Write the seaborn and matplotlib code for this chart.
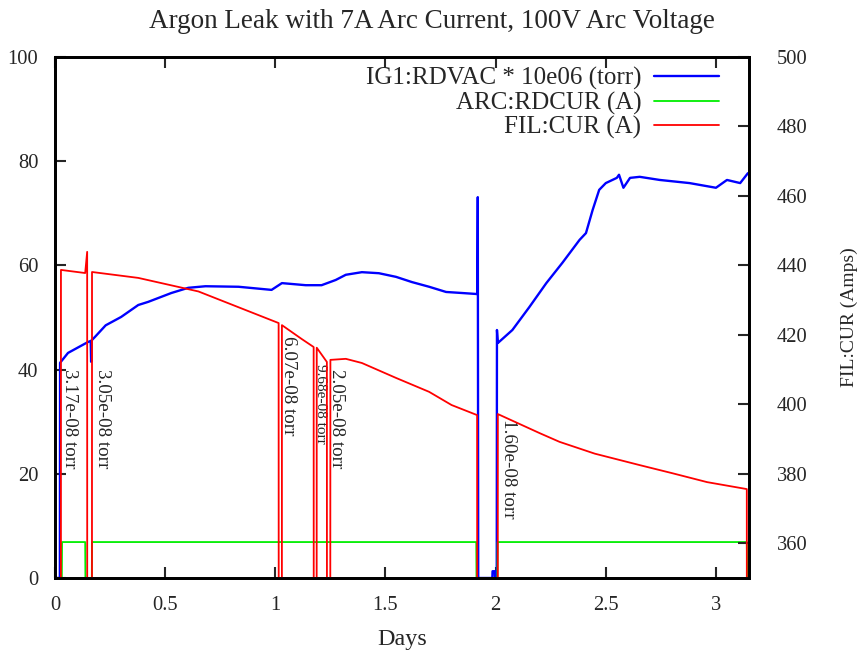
import numpy as np
import pandas as pd
import matplotlib
matplotlib.use("Agg")
import matplotlib.pyplot as plt
import seaborn as sns

# ---- data ----
blue_days = [0, 0.022, 0.023, 0.059, 0.15, 0.162, 0.164, 0.166, 0.182, 0.23, 0.3, 0.378, 0.423,
             0.528, 0.605, 0.683, 0.833, 0.983, 1.03, 1.138, 1.21, 1.274, 1.32, 1.393, 1.47,
             1.548, 1.62, 1.698, 1.775, 1.848, 1.917, 1.919, 1.921, 1.985, 1.986, 1.996, 1.997,
             2.005, 2.006, 2.01, 2.076, 2.153, 2.23, 2.303, 2.381, 2.41, 2.44, 2.47, 2.50, 2.55,
             2.56, 2.58, 2.61, 2.654, 2.745, 2.88, 3.0, 3.05, 3.11, 3.145]
blue_vals = [0, 0, 41.3, 43.2, 45.3, 45.5, 41.5, 45.6, 46.3, 48.5, 50.1, 52.4, 53.0,
             54.7, 55.7, 56.0, 55.9, 55.3, 56.6, 56.2, 56.2, 57.2, 58.2, 58.7, 58.5,
             57.8, 56.8, 55.9, 54.9, 54.7, 54.5, 73.1, 0, 0, 1.3, 1.3, 0,
             0, 47.6, 45.1, 47.6, 52.0, 56.6, 60.5, 64.9, 66.2, 70.6, 74.5, 75.8, 76.8,
             77.4, 74.9, 76.8, 77.0, 76.4, 75.8, 74.9, 76.4, 75.8, 77.7]

green_days = [0, 0.031, 0.032, 0.137, 0.138, 0.167, 0.168, 1.912, 1.913, 2.008, 2.009, 3.14, 3.142]
green_vals = [0, 0, 6.9, 6.9, 0, 0, 6.9, 6.9, 0, 0, 6.9, 6.9, 0]

red_days = [0, 0.026, 0.027, 0.137, 0.146, 0.147, 0.167, 0.168, 0.378, 0.651, 1.015, 1.017,
            1.029, 1.03, 1.12, 1.174, 1.176, 1.186, 1.188, 1.234, 1.236, 1.247, 1.25, 1.32,
            1.393, 1.548, 1.698, 1.80, 1.916, 1.918, 2.008, 2.01, 2.2, 2.29, 2.45, 2.654,
            2.80, 2.96, 3.14, 3.142]
red_vals = [0, 0, 438.7, 437.8, 443.9, 0, 0, 438.1, 436.4, 432.5, 423.4, 0,
            0, 422.8, 418.8, 416.5, 0, 0, 416.3, 412.2, 0, 0, 412.8, 413.1,
            411.9, 407.6, 403.6, 399.8, 396.9, 0, 0, 397.2, 391.7, 389.2, 385.8, 382.5,
            380.2, 377.6, 375.6, 0]

label_texts = ["3.17e-08 torr", "3.05e-08 torr", "6.07e-08 torr", "9.68e-08 torr",
               "2.05e-08 torr", "1.60e-08 torr"]
label_days = [0.064, 0.214, 1.06, 1.206, 1.279, 2.057]
label_vals = [40.2, 40.2, 46.5, 41.1, 40.1, 30.5]

x_ticks = [0, 0.5, 1, 1.5, 2, 2.5, 3]
x_ticklabels = ["0", "0.5", "1", "1.5", "2", "2.5", "3"]
left_ticks = [0, 20, 40, 60, 80, 100]
right_ticks = [360, 380, 400, 420, 440, 460, 480, 500]

series_names = ["IG1:RDVAC * 10e06 (torr)", "ARC:RDCUR (A)", "FIL:CUR (A)"]

# ---- style ----
sns.set_style("white")
plt.rcParams["font.family"] = ["Liberation Serif", "DejaVu Serif"]
FS = 14.8

fig = plt.figure(figsize=(8.64, 6.55), dpi=100)
ax = fig.add_axes([55 / 864, 1 - 578 / 655, (749 - 55) / 864, (578 - 57) / 655])
ax2 = ax.twinx()

df_blue = pd.DataFrame({"days": blue_days, "val": blue_vals})
df_green = pd.DataFrame({"days": green_days, "val": green_vals})
df_red = pd.DataFrame({"days": red_days, "val": red_vals})

sns.lineplot(data=df_blue, x="days", y="val", ax=ax, color="#0000ff", lw=1.7,
             estimator=None, sort=False, label=series_names[0], legend=False)
sns.lineplot(data=df_green, x="days", y="val", ax=ax, color="#00ee00", lw=1.3,
             estimator=None, sort=False, label=series_names[1], legend=False)
sns.lineplot(data=df_red, x="days", y="val", ax=ax2, color="#ff0000", lw=1.3,
             estimator=None, sort=False, label=series_names[2], legend=False)

ax.set_xlim(0, 3.15)
ax.set_ylim(0, 100)
ax2.set_ylim(350, 500)

ax.set_xticks(x_ticks)
ax.set_xticklabels(x_ticklabels)
ax.set_yticks(left_ticks)
ax2.set_yticks(right_ticks)

ax.tick_params(axis="x", which="both", direction="in", length=8, width=1.5,
               top=True, bottom=True, labelsize=FS, pad=13)
ax.tick_params(axis="y", direction="in", length=8, width=1.5, left=True, right=False,
               labelsize=FS, pad=12)
ax2.tick_params(axis="y", direction="in", length=8, width=1.5, right=True, left=False,
                labelsize=FS, pad=20)

for sp in ax.spines.values():
    sp.set_linewidth(2)
    sp.set_color("black")
for sp in ax2.spines.values():
    sp.set_linewidth(2)
    sp.set_color("black")

ax.set_xlabel("Days", fontsize=17.4, labelpad=10)
ax.set_ylabel("")
ax2.set_ylabel("FIL:CUR (Amps)", fontsize=14.0, labelpad=24)

fig.suptitle("Argon Leak with 7A Arc Current, 100V Arc Voltage", fontsize=19.5,
             x=0.5, y=1 - 22 / 655, va="center")

for t, xd, yv in zip(label_texts, label_days, label_vals):
    ax.text(xd, yv, t, rotation=-90, ha="center", va="top",
            fontsize=13.7 if t != "9.68e-08 torr" else 11.0)

h1, l1 = ax.get_legend_handles_labels()
h2, l2 = ax2.get_legend_handles_labels()
leg = ax2.legend(h1 + h2, l1 + l2, loc="upper right", frameon=False, markerfirst=False,
                 fontsize=18, handlelength=2.6, handletextpad=0.5, labelspacing=0.06,
                 borderaxespad=0.0, bbox_to_anchor=(0.971, 1.0))

fig.savefig("out.png", dpi=100)
